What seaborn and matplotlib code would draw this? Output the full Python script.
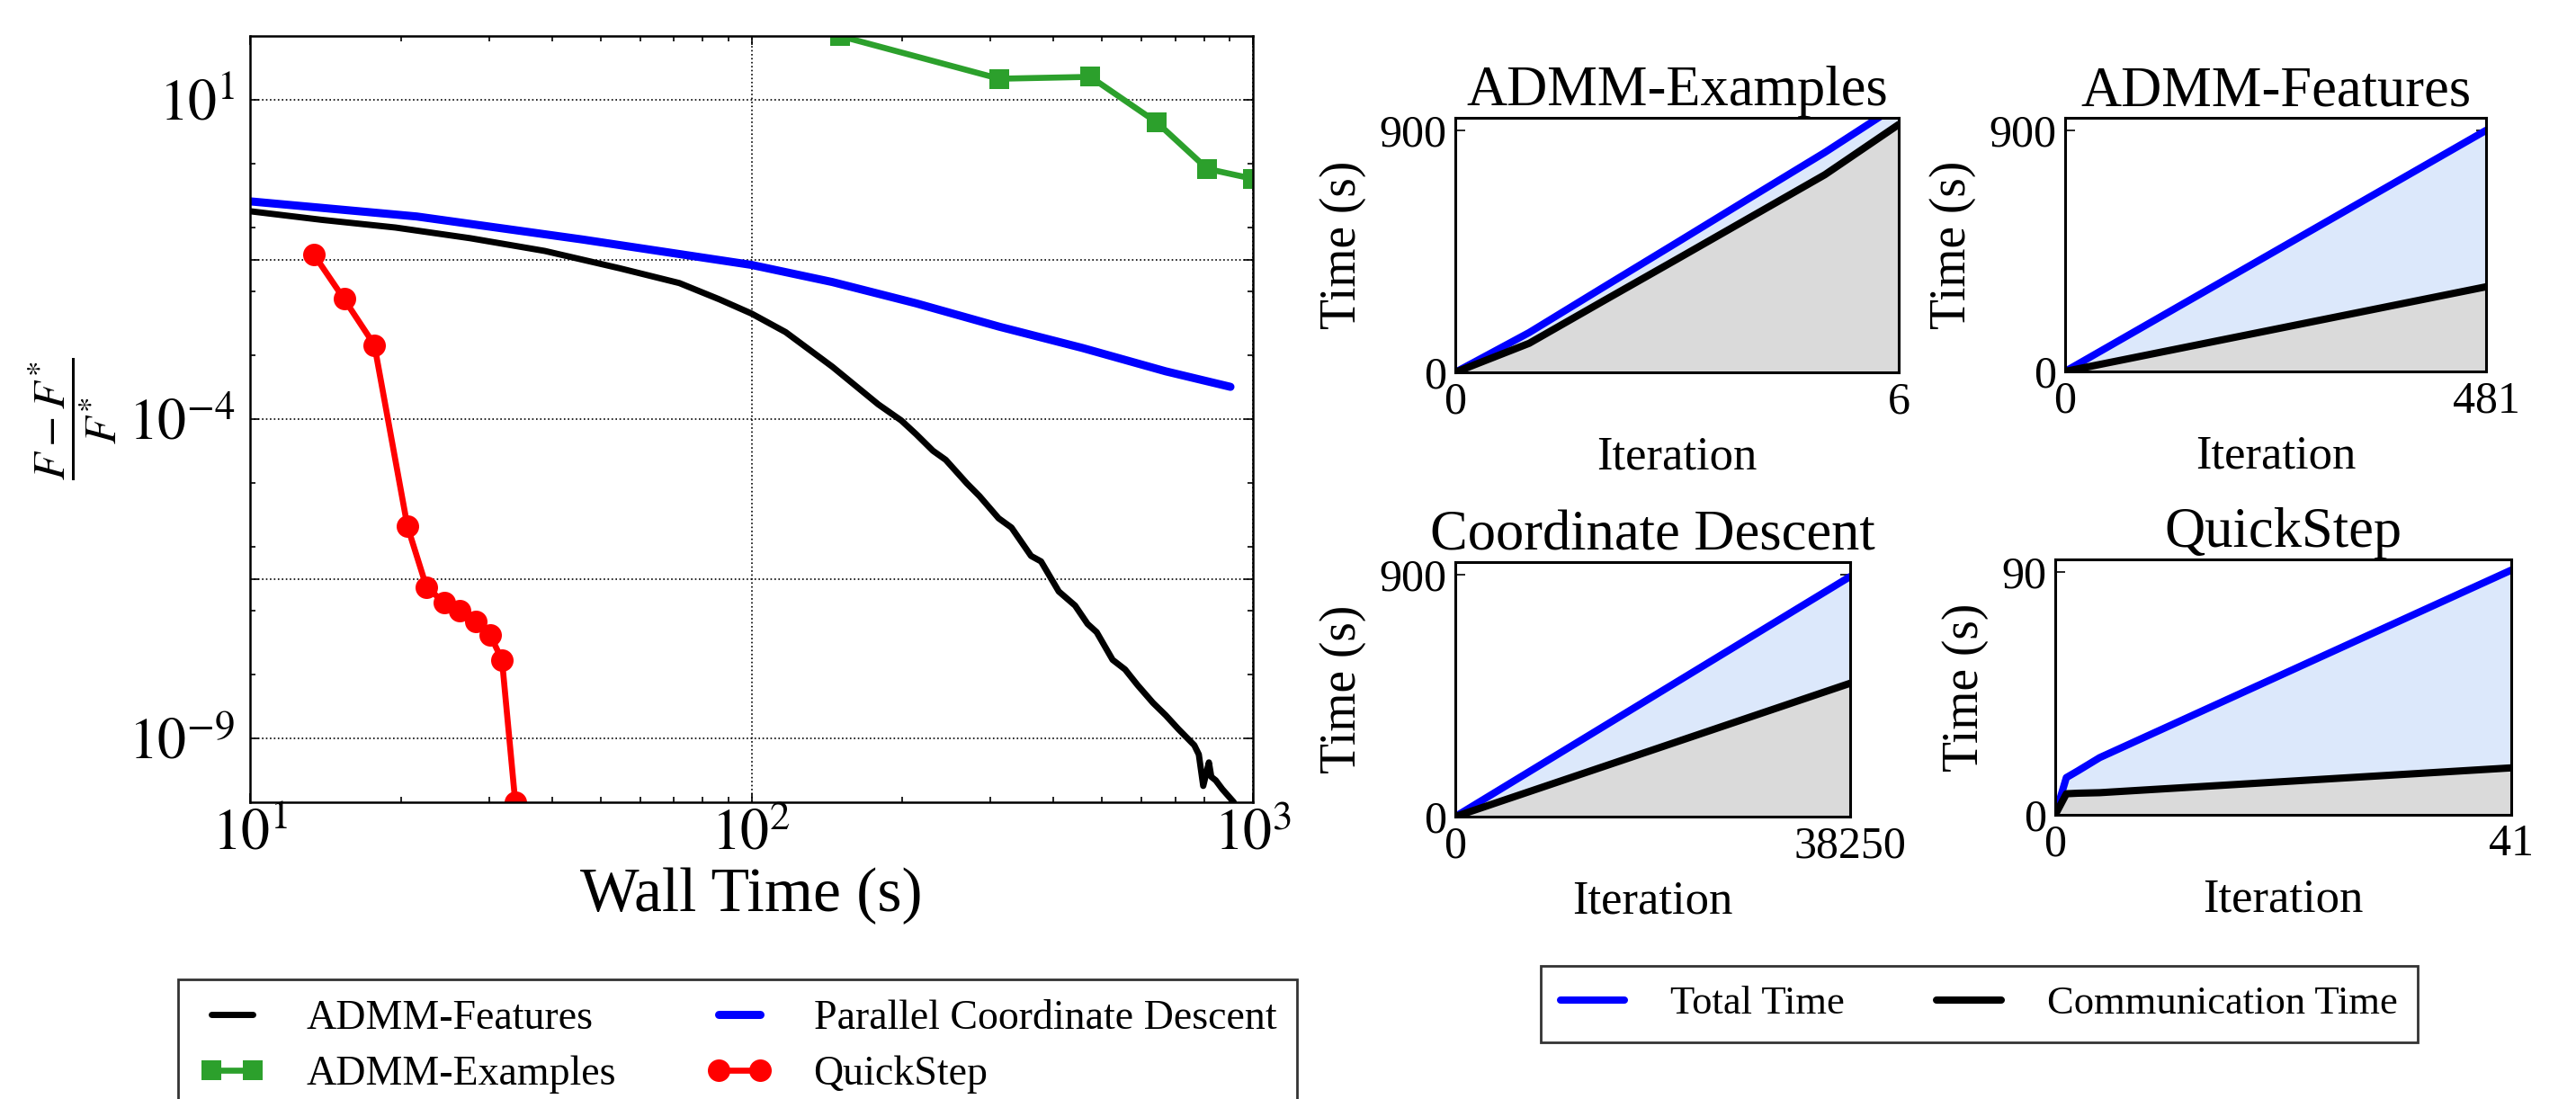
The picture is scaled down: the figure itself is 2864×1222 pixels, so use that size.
import numpy as np
import pandas as pd
import matplotlib
matplotlib.use("Agg")
import matplotlib.pyplot as plt
import seaborn as sns
from matplotlib.ticker import FixedLocator, FuncFormatter, NullFormatter

# ---- convergence: wall time (s) vs relative objective gap ----
feat_time = [10, 13.9, 19.5, 27.5, 38.7, 54.6, 71.8, 86.3, 100, 117, 145,
             179, 199, 213, 230, 244, 269, 285, 311, 330, 361, 378, 410, 442,
             468, 488, 525, 556, 589, 632, 670, 710, 764, 780, 796, 817, 826,
             843, 869, 916]
feat_gap = [1.8e-1, 1.32e-1, 1.0e-1, 6.8e-2, 4.3e-2, 2.3e-2, 1.35e-2, 7.5e-3,
            4.5e-3, 2.3e-3, 6.6e-4, 1.7e-4, 9.5e-5, 5.8e-5, 3.2e-5, 2.3e-5,
            9.8e-6, 6.2e-6, 2.8e-6, 2.0e-6, 7.2e-7, 5.9e-7, 2.0e-7, 1.2e-7,
            6.2e-8, 4.6e-8, 1.7e-8, 1.2e-8, 6.8e-9, 3.6e-9, 2.3e-9, 1.4e-9,
            7.8e-10, 5.6e-10, 1.8e-10, 4.2e-10, 2.5e-10, 2.2e-10, 1.6e-10, 1.0e-10]

pcd_time = [10, 21.5, 46, 100, 145, 213, 312, 457, 670, 902]
pcd_gap = [2.57e-1, 1.49e-1, 6.5e-2, 2.6e-2, 1.4e-2, 6.5e-3, 2.8e-3, 1.3e-3, 5.6e-4, 3.2e-4]

ex_time = [150, 312, 474, 644, 811, 1000]
ex_gap = [1.0e2, 21.4, 22.9, 4.4, 0.83, 0.58]

qs_time = [13.4, 15.4, 17.7, 20.6, 22.5, 24.4, 26.2, 28.2, 30.1, 31.8, 33.8]
qs_gap = [3.8e-2, 7.6e-3, 1.45e-3, 2.1e-6, 2.3e-7, 1.35e-7, 1.0e-7, 6.8e-8,
          4.2e-8, 1.7e-8, 1.0e-10]

# ---- per-iteration timing panels ----
panel_titles = ["ADMM-Examples", "ADMM-Features", "Coordinate Descent", "QuickStep"]
panel_iters = [[0, 1, 2, 3, 4, 5, 6], [0, 481], [0, 38250], [0, 1, 2, 4, 41]]
panel_total = [[0, 148, 316, 483, 651, 818, 996], [0, 900], [0, 893],
               [0, 13.8, 16.2, 21.2, 90.7]]
panel_comm = [[0, 108, 265, 421, 578, 735, 922], [0, 316], [0, 496],
              [0, 7.8, 8.0, 8.2, 17.4]]
panel_ytick = [900, 900, 900, 90]

sns.set_theme(style="ticks")
plt.rcParams["font.family"] = ["Liberation Serif", "DejaVu Serif"]
plt.rcParams["mathtext.fontset"] = "stix"
plt.rcParams["axes.edgecolor"] = "black"
plt.rcParams["axes.linewidth"] = 1.8
plt.rcParams["xtick.color"] = "black"
plt.rcParams["ytick.color"] = "black"
plt.rcParams["text.color"] = "black"
plt.rcParams["axes.labelcolor"] = "black"

W, H = 2864, 1222
fig = plt.figure(figsize=(W / 100, H / 100), dpi=100)


def box(x0, y0, x1, y1):
    # pixel box (top-left origin) -> figure fraction rect
    return [x0 / W, 1 - y1 / H, (x1 - x0) / W, (y1 - y0) / H]


# ---------------- main convergence plot ----------------
ax = fig.add_axes(box(278, 40, 1393, 892))
ax.set_xscale("log")
ax.set_yscale("log")

sns.lineplot(x=feat_time, y=feat_gap, ax=ax, color="black", lw=5,
             sort=False, estimator=None, label="ADMM-Features", legend=False)
sns.lineplot(x=ex_time, y=ex_gap, ax=ax, color="#2ca02c", lw=4.8, marker="s",
             markersize=16, markeredgewidth=0, sort=False, estimator=None,
             label="ADMM-Examples", legend=False)
sns.lineplot(x=pcd_time, y=pcd_gap, ax=ax, color="blue", lw=6.5,
             sort=False, estimator=None, label="Parallel Coordinate Descent",
             legend=False)
sns.lineplot(x=qs_time, y=qs_gap, ax=ax, color="red", lw=4.8, marker="o",
             markersize=18, markeredgewidth=0, sort=False, estimator=None,
             label="QuickStep", legend=False)

ax.set_xlim(10, 1000)
ax.set_ylim(1e-10, 1e2)

ax.xaxis.set_major_locator(FixedLocator([10, 100, 1000]))
ax.xaxis.set_minor_locator(FixedLocator([k * d for d in (10, 100) for k in range(2, 10)]))
ax.xaxis.set_major_formatter(FuncFormatter(lambda v, p: r"$10^{%d}$" % round(np.log10(v))))
ax.xaxis.set_minor_formatter(NullFormatter())

ymaj = [10.0 ** e for e in (1, -1.5, -4, -6.5, -9)]
ax.yaxis.set_major_locator(FixedLocator(ymaj))
ax.yaxis.set_minor_locator(FixedLocator([10.0 ** e for e in (0, -1, -2, -3, -5, -6, -7, -8)]))


def ylog_fmt(v, p):
    e = np.log10(v)
    if abs(e - round(e)) < 1e-6:
        return r"$10^{%d}$" % round(e)
    return ""


ax.yaxis.set_major_formatter(FuncFormatter(ylog_fmt))
ax.yaxis.set_minor_formatter(NullFormatter())

ax.tick_params(which="both", direction="in", top=True, right=True, width=1.2,
               colors="black")
ax.tick_params(which="major", length=7, labelsize=46)
ax.tick_params(which="minor", length=4)
ax.tick_params(axis="x", which="major", pad=6)
ax.tick_params(axis="y", which="major", pad=12)
ax.grid(True, which="major", ls=":", color="black", lw=1.2)

ax.set_xlabel("Wall Time (s)", fontsize=50)
ax.xaxis.set_label_coords(0.5, -0.085)
ax.set_ylabel(r"$\dfrac{F - F^{*}}{F^{*}}$", fontsize=36, labelpad=8)

handles = ax.get_lines()[:4]
labels = [h.get_label() for h in handles]
leg = fig.legend(handles, labels, loc="upper left",
                 bbox_to_anchor=(198 / W, 1 - 1089 / H), ncol=2, fontsize=33,
                 frameon=True, fancybox=False, edgecolor="black",
                 handlelength=1.6, handletextpad=1.0, columnspacing=2.2,
                 borderpad=0.5, labelspacing=0.42, numpoints=2,
                 borderaxespad=0)
leg.get_frame().set_linewidth(2)

# ---------------- timing panels ----------------
panel_boxes = [(1618, 131, 2111, 414), (2296, 131, 2764, 413),
               (1618, 625, 2057, 908), (2285, 622, 2792, 906)]

for i, title in enumerate(panel_titles):
    pax = fig.add_axes(box(*panel_boxes[i]))
    it = panel_iters[i]
    tot = panel_total[i]
    com = panel_comm[i]
    pax.fill_between(it, com, tot, color="#dce8fb", lw=0)
    pax.fill_between(it, 0, com, color="#dadada", lw=0)
    sns.lineplot(x=it, y=tot, ax=pax, color="blue", lw=5.8, sort=False,
                 estimator=None, label="Total Time", legend=False)
    sns.lineplot(x=it, y=com, ax=pax, color="black", lw=5.8, sort=False,
                 estimator=None, label="Communication Time", legend=False)
    yt = panel_ytick[i]
    pax.set_xlim(0, it[-1])
    pax.set_ylim(0, yt * 1.052)
    pax.set_xticks([0, it[-1]])
    pax.set_yticks([0, yt])
    pax.set_xticklabels(["0", str(it[-1])])
    pax.set_yticklabels(["0", str(yt)])
    pax.tick_params(direction="in", top=True, right=True, length=8, width=1.2,
                    labelsize=36, colors="black")
    pax.tick_params(axis="x", pad=7)
    pax.tick_params(axis="y", pad=7)
    pax.set_title(title, fontsize=45, pad=10)
    pax.set_xlabel("Iteration", fontsize=38)
    pax.xaxis.set_label_coords(0.5, -0.25)
    pax.set_ylabel("Time (s)", fontsize=40, labelpad=10)
    for s in pax.spines.values():
        s.set_linewidth(2.2)
    if i == 0:
        timing_handles = pax.get_lines()[:2]

leg2 = fig.legend(timing_handles, [h.get_label() for h in timing_handles],
                  loc="upper left", bbox_to_anchor=(1713 / W, 1 - 1074 / H),
                  ncol=2, fontsize=32, frameon=True, fancybox=False,
                  edgecolor="black", handlelength=1.6, handletextpad=1.15,
                  columnspacing=2.3, borderpad=0.5, borderaxespad=0)
leg2.get_frame().set_linewidth(2)

fig.savefig("out.png", dpi=100)
